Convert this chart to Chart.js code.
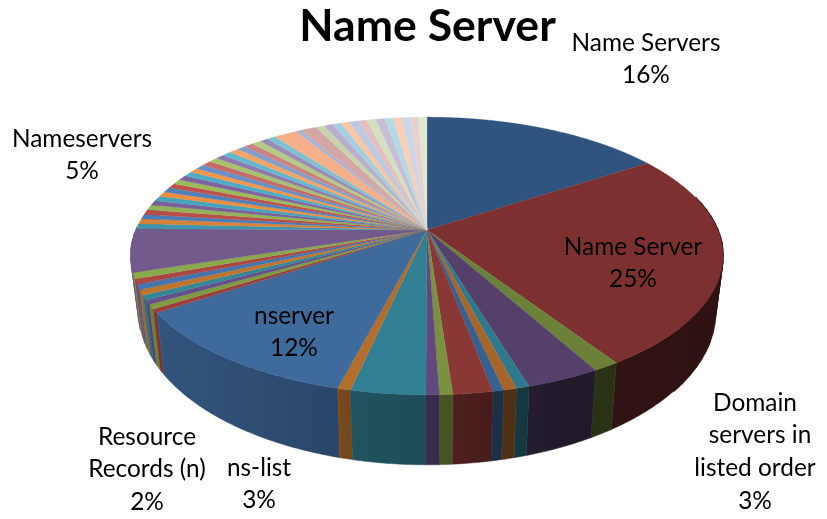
<!DOCTYPE html>
<html>
<head>
<meta charset="utf-8">
<style>html,body{margin:0;padding:0;background:#fff}canvas{display:block}</style>
<script src="https://cdn.jsdelivr.net/npm/chart.js@4"></script>
</head>
<body>
<canvas id="c" width="827" height="519"></canvas>
<script>
const chartTitle = 'Name Server';
const values = [
  15.75, 25.0, 1.2, 3.4, 0.6, 0.6, 0.5, 1.8, 0.6, 0.6, 3.4, 0.6, 11.6,
  0.45, 0.5, 0.5, 0.55, 0.6, 0.6, 0.6, 0.7, 5.0,
  0.6, 0.6, 0.55, 0.6, 0.6, 0.55, 0.6, 0.6, 0.6, 0.55, 0.6, 0.6, 0.6, 0.55, 0.6, 0.6,
  0.6, 0.55, 0.6, 0.6, 0.55, 0.6, 0.6, 0.55, 0.55,
  1.5, 0.35, 1.05,
  0.55, 0.6, 0.55, 0.55, 0.6, 0.55, 0.6, 0.6, 0.55, 0.55, 0.55, 0.55, 0.55
];
const sliceColors = [
  '#2f5480','#7c3030','#6b8038','#553f6b','#2e7a8c','#a8652a',
  '#37608f','#8a3836','#7a923f','#604a7d','#317f92','#b46e2c',
  '#3e6a9c','#9c3f3c','#7f9c42','#64508a','#358696','#c0752f',
  '#4475ac','#ac4644','#8aa94c','#725a8c','#3f95ad','#d88238',
  '#4a7cb6','#b94d4a','#93b254','#7a5f9b','#46a3bc','#ea8d3f',
  '#4f81bd','#c0504d','#9bbb59','#8064a2','#4bacc6','#f79646',
  '#6890c6','#c66a68','#a6c26d','#8f78ad','#65b7cf','#f7a463',
  '#7f9fcd','#cc8483','#b3cb85','#9c8bb8','#7dc1d5','#f5b08a',
  '#a5b5d6','#d4a6a6','#c6d5ab','#b9aecd','#a6d0de','#fac6a6',
  '#bcc9e2','#e0c0c0','#d4e0bf','#c6bdd6','#b6d8e5','#fbcfb6',
  '#ccd6e9','#e8d0d0','#dfe7d0'
];
const sliceLabels = ['Name Servers','Name Server','nserver','Nameservers','Domain servers in listed order','Resource Records (n)','ns-list'];
const labelSlices = [0, 1, 12, 21, 3, 7, 10];
const labelLines = [
  ['Name Servers','16%'],
  ['Name Server','25%'],
  ['nserver','12%'],
  ['Nameservers','5%'],
  ['Domain','servers in','listed order','3%'],
  ['Resource','Records (n)','2%'],
  ['ns-list','3%']
];
const labelAnchors = [[646,43],[633,247],[294,316],[82,139],[755,403],[147,437],[259,468]];
const labelStep = 32.6;
const lineShift = {'servers in':5};

const categories = values.map((_, i) => {
  const k = labelSlices.indexOf(i);
  return k >= 0 ? sliceLabels[k] : '';
});

// View of the flat pie: a circle seen in perspective, then a thicker lower rim.
const view = {cx:427, cy:230, rx:290.8, ry:134, k:0.187, bottomCy:283.5, bottomY:1.1, bottomX:0.974};
const wallShade = [[130,.92],[160,.80],[340,.66],[430,.60],[470,.54],[560,.40],[720,.38]];

function topPoint(t){
  const u=Math.sin(t), v=-Math.cos(t), d=1-view.k*v;
  return [view.cx+view.rx*u/d, view.cy+view.ry*v/d];
}
function bottomPoint(t){
  const u=Math.sin(t), v=-Math.cos(t), d=1-view.k*v;
  return [view.cx+view.bottomX*view.rx*u/d, view.bottomCy+view.bottomY*view.ry*v/d];
}
function darken(hex,f){
  const n=parseInt(hex.slice(1),16);
  return 'rgb('+Math.round((n>>16&255)*f)+','+Math.round((n>>8&255)*f)+','+Math.round((n&255)*f)+')';
}
function wallFill(ctx,hex){
  const x0=wallShade[0][0], x1=wallShade[wallShade.length-1][0];
  const g=ctx.createLinearGradient(x0,0,x1,0);
  wallShade.forEach(([x,f])=>g.addColorStop((x-x0)/(x1-x0),darken(hex,f)));
  return g;
}

const pie3d = {
  id:'pie3d',
  beforeDatasetDraw(chart){
    const ctx=chart.ctx, arcs=chart.getDatasetMeta(0).data, step=Math.PI/360;
    const wallFrom=Math.PI*0.42, wallTo=Math.PI*1.58, sidePiece=Math.PI/60, sideZone=Math.PI*0.28;
    const walls=[];
    arcs.forEach((arc,i)=>{
      const a=Math.max(arc.startAngle+Math.PI/2,wallFrom), b=Math.min(arc.endAngle+Math.PI/2,wallTo);
      if(b<=a) return;
      // The rim folds over near the left and right extremes, so it is cut into narrow pieces there.
      let s=a;
      while(s<b){
        const inSide=Math.abs(s-Math.PI)>sideZone;
        let e=inSide?Math.min(s+sidePiece,b):b;
        if(!inSide){
          const near=s<Math.PI?Math.PI+sideZone:b;
          e=Math.min(b,near);
        }
        walls.push({a:s,b:e,i,wide:arc.endAngle-arc.startAngle>0.2});
        s=e;
      }
    });
    walls.sort((p,q)=>Math.abs((q.a+q.b)/2-Math.PI)-Math.abs((p.a+p.b)/2-Math.PI));
    ctx.save();
    walls.forEach(w=>{
      const g=wallFill(ctx,sliceColors[w.i]);
      ctx.fillStyle=g;ctx.strokeStyle=g;ctx.lineWidth=w.wide&&w.b-w.a<=sidePiece+1e-6?1.6:0.5;
      ctx.beginPath();
      let p=topPoint(w.a);ctx.moveTo(p[0],p[1]);
      for(let t=w.a;t<w.b;t+=step){p=topPoint(t);ctx.lineTo(p[0],p[1]);}
      p=topPoint(w.b);ctx.lineTo(p[0],p[1]);
      p=bottomPoint(w.b);ctx.lineTo(p[0],p[1]);
      for(let t=w.b;t>w.a;t-=step){p=bottomPoint(t);ctx.lineTo(p[0],p[1]);}
      p=bottomPoint(w.a);ctx.lineTo(p[0],p[1]);
      ctx.closePath();ctx.fill();ctx.stroke();
    });
    arcs.forEach((arc,i)=>{
      const a=arc.startAngle+Math.PI/2, b=arc.endAngle+Math.PI/2;
      ctx.fillStyle=sliceColors[i];ctx.strokeStyle=sliceColors[i];ctx.lineWidth=0.3;
      ctx.beginPath();ctx.moveTo(view.cx,view.cy);
      for(let t=a;t<b;t+=step/2){const p=topPoint(t);ctx.lineTo(p[0],p[1]);}
      const p=topPoint(b);ctx.lineTo(p[0],p[1]);
      ctx.closePath();ctx.fill();ctx.stroke();
    });
    ctx.restore();
    return false;
  },
  afterDatasetsDraw(chart){
    const ctx=chart.ctx;
    ctx.save();
    ctx.fillStyle='#000';
    ctx.font='24.4px Lato';
    ctx.textAlign='center';
    ctx.textBaseline='middle';
    labelLines.forEach((lines,i)=>{
      const [x,y]=labelAnchors[i];
      lines.forEach((s,j)=>ctx.fillText(s,x+(lineShift[s]||0),y+j*labelStep));
    });
    ctx.restore();
  }
};

new Chart(document.getElementById('c'),{
  type:'pie',
  data:{labels:categories,datasets:[{data:values,backgroundColor:sliceColors,borderWidth:0}]},
  options:{
    responsive:false,
    animation:false,
    layout:{padding:{left:28}},
    plugins:{
      legend:{display:false},
      tooltip:{enabled:false},
      title:{display:true,text:chartTitle,color:'#000',font:{family:'Lato',size:44.6,weight:'bold'},padding:{top:0,bottom:4}}
    }
  },
  plugins:[pie3d]
});
</script>
</body>
</html>
